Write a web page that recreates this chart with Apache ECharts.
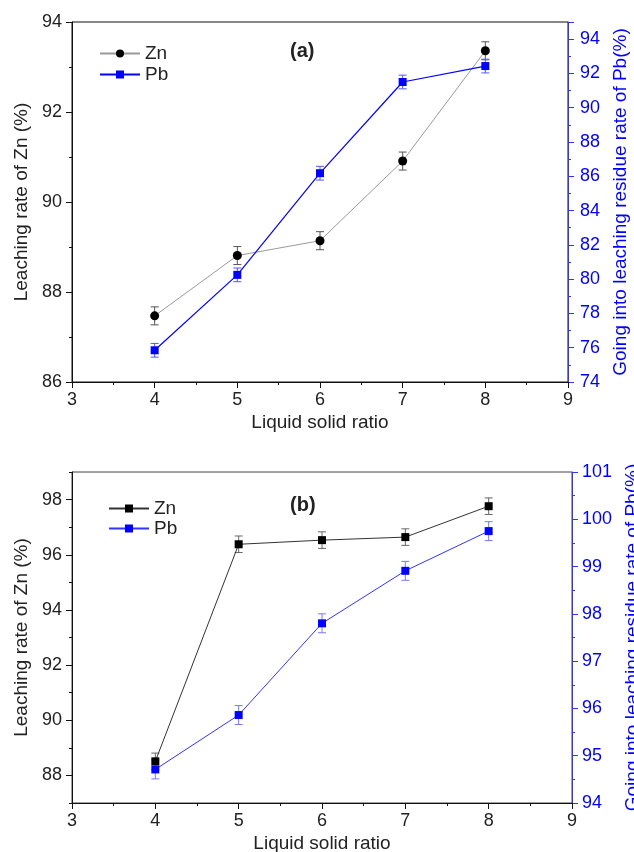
<!DOCTYPE html>
<html>
<head>
<meta charset="utf-8">
<script src="https://cdn.jsdelivr.net/npm/echarts@6/dist/echarts.min.js"></script>
<style>
html,body{margin:0;padding:0;background:#fff;}
#chart{width:634px;height:852px;}
</style>
</head>
<body>
<div id="chart"></div>
<script>
// ---- data ----
const ratios = [4, 5, 6, 7, 8];
// panel (a)
const znA = [87.47, 88.81, 89.14, 90.91, 93.36];
const znAErr = [0.2, 0.2, 0.2, 0.2, 0.2];
const pbA = [75.85, 80.25, 86.18, 91.50, 92.43];
const pbAErr = [0.4, 0.4, 0.4, 0.4, 0.4];
// panel (b)
const znB = [88.51, 96.38, 96.53, 96.64, 97.76];
const znBErr = [0.3, 0.3, 0.3, 0.3, 0.3];
const pbB = [94.71, 95.86, 97.80, 98.91, 99.75];
const pbBErr = [0.2, 0.2, 0.2, 0.2, 0.2];
// tick labels
const xTicks = [3, 4, 5, 6, 7, 8, 9];
const leftTicksA = [86, 88, 90, 92, 94];
const rightTicksA = [74, 76, 78, 80, 82, 84, 86, 88, 90, 92, 94];
const leftTicksB = [88, 90, 92, 94, 96, 98];
const rightTicksB = [94, 95, 96, 97, 98, 99, 100, 101];

const FONT = 'Liberation Sans, Arial, sans-serif';
const BLUE = '#0000ff';
const TXT = '#222';

function pts(v) { return ratios.map((x, i) => [x, v[i]]); }
function errs(v, e) { return ratios.map((x, i) => [x, v[i] - e[i], v[i] + e[i]]); }

function errSeries(data, xi, yi, color) {
  return {
    type: 'custom', xAxisIndex: xi, yAxisIndex: yi, z: 1, silent: true,
    encode: { x: 0, y: [1, 2] },
    data: data,
    renderItem: function (params, api) {
      const x = api.value(0), lo = api.value(1), hi = api.value(2);
      const a = api.coord([x, hi]), b = api.coord([x, lo]);
      const w = 4, st = { stroke: color, lineWidth: 1 };
      return { type: 'group', children: [
        { type: 'line', shape: { x1: a[0], y1: a[1], x2: b[0], y2: b[1] }, style: st },
        { type: 'line', shape: { x1: a[0] - w, y1: a[1], x2: a[0] + w, y2: a[1] }, style: st },
        { type: 'line', shape: { x1: b[0] - w, y1: b[1], x2: b[0] + w, y2: b[1] }, style: st }
      ]};
    }
  };
}

function xAxisDef(gi) {
  return {
    type: 'value', gridIndex: gi, min: 3, max: 9, interval: 1,
    name: 'Liquid solid ratio', nameLocation: 'middle', nameGap: 31,
    nameTextStyle: { fontFamily: FONT, fontSize: 19, color: TXT },
    axisLine: { lineStyle: { color: '#111', width: 1 } },
    axisTick: { show: true, inside: false, length: 6, lineStyle: { color: '#111' } },
    minorTick: { show: true, splitNumber: 2, length: 3, lineStyle: { color: '#111' } },
    axisLabel: { fontFamily: FONT, fontSize: 18, color: TXT, margin: 9,
      formatter: v => (xTicks.indexOf(v) >= 0 ? String(v) : '') },
    splitLine: { show: false }
  };
}

const leftName = 'Leaching rate of Zn (%)';
const rightName = 'Going into leaching residue rate of Pb(%)';

const option = {
  animation: false,
  backgroundColor: '#fff',
  textStyle: { fontFamily: FONT },
  title: [
    { text: '(a)', left: 290, top: 41, padding: 0, textStyle: { fontFamily: FONT, fontSize: 20, fontWeight: 'bold', color: TXT } },
    { text: '(b)', left: 290, top: 495, padding: 0, textStyle: { fontFamily: FONT, fontSize: 20, fontWeight: 'bold', color: TXT } }
  ],
  legend: [
    { orient: 'vertical', left: 99, top: 44, padding: 0, itemWidth: 40, itemHeight: 10, itemGap: 2,
      data: ['Zn(a)', 'Pb(a)'], formatter: n => n.slice(0, 2),
      textStyle: { fontFamily: FONT, fontSize: 19, lineHeight: 19, color: TXT } },
    { orient: 'vertical', left: 108, top: 499, padding: 0, itemWidth: 40, itemHeight: 10, itemGap: 1,
      data: ['Zn(b)', 'Pb(b)'], formatter: n => n.slice(0, 2),
      textStyle: { fontFamily: FONT, fontSize: 19, lineHeight: 19, color: TXT } }
  ],
  grid: [
    { left: 72, right: 66, top: 22, height: 360, show: true, borderColor: '#111', borderWidth: 1,
      backgroundColor: 'transparent', outerBoundsMode: 'none', containLabel: false },
    { left: 72, right: 62, top: 472, height: 331, show: true, borderColor: '#444', borderWidth: 1,
      backgroundColor: 'transparent', outerBoundsMode: 'none', containLabel: false }
  ],
  xAxis: [xAxisDef(0), xAxisDef(1)],
  yAxis: [
    { // 0: (a) left
      type: 'value', gridIndex: 0, position: 'left', min: 86, max: 94, interval: 2,
      name: leftName, nameLocation: 'middle', nameRotate: 90, nameGap: 37,
      nameTextStyle: { fontFamily: FONT, fontSize: 19, color: TXT },
      axisLine: { show: true, lineStyle: { color: '#111' } },
      axisTick: { show: true, inside: false, length: 6, lineStyle: { color: '#111' } },
      minorTick: { show: true, splitNumber: 2, length: 3, lineStyle: { color: '#111' } },
      axisLabel: { fontFamily: FONT, fontSize: 18, color: TXT, margin: 10,
        formatter: v => (leftTicksA.indexOf(v) >= 0 ? String(v) : '') },
      splitLine: { show: false }
    },
    { // 1: (a) right
      type: 'value', gridIndex: 0, position: 'right', min: 74, max: 95, interval: 2,
      name: rightName, nameLocation: 'middle', nameRotate: 90, nameGap: 40,
      nameTextStyle: { fontFamily: FONT, fontSize: 19, color: BLUE },
      axisLine: { show: true, lineStyle: { color: '#3333ff' } },
      axisTick: { show: true, inside: false, length: 6, lineStyle: { color: '#3333ff' } },
      minorTick: { show: true, splitNumber: 2, length: 3, lineStyle: { color: '#3333ff' } },
      axisLabel: { fontFamily: FONT, fontSize: 18, color: BLUE, margin: 12,
        formatter: v => (rightTicksA.indexOf(v) >= 0 ? String(v) : '') },
      splitLine: { show: false }
    },
    { // 2: (b) left
      type: 'value', gridIndex: 1, position: 'left', min: 87, max: 99,
      name: leftName, nameLocation: 'middle', nameRotate: 90, nameGap: 38,
      nameTextStyle: { fontFamily: FONT, fontSize: 19, color: TXT },
      axisLine: { show: true, lineStyle: { color: '#111' } },
      axisTick: { show: true, inside: false, length: 6, customValues: leftTicksB, lineStyle: { color: '#111' } },
      axisLabel: { fontFamily: FONT, fontSize: 18, color: TXT, margin: 10, customValues: leftTicksB },
      splitLine: { show: false }
    },
    { // 3: (b) right
      type: 'value', gridIndex: 1, position: 'right', min: 94, max: 101, interval: 1,
      name: rightName, nameLocation: 'middle', nameRotate: 90, nameGap: 45,
      nameTextStyle: { fontFamily: FONT, fontSize: 19, color: BLUE },
      axisLine: { show: true, lineStyle: { color: '#3333ff' } },
      axisTick: { show: true, inside: false, length: 6, lineStyle: { color: '#3333ff' } },
      minorTick: { show: true, splitNumber: 2, length: 3, lineStyle: { color: '#3333ff' } },
      axisLabel: { fontFamily: FONT, fontSize: 18, color: BLUE, margin: 10,
        formatter: v => (rightTicksB.indexOf(v) >= 0 ? String(v) : '') },
      splitLine: { show: false }
    },
    { // 4: (b) left minor ticks at odd values
      type: 'value', gridIndex: 1, position: 'left', min: 87, max: 99, interval: 2,
      axisLine: { show: false },
      axisTick: { show: true, inside: false, length: 3, lineStyle: { color: '#111' } },
      axisLabel: { show: false },
      splitLine: { show: false }
    }
  ],
  series: [
    errSeries(errs(znA, znAErr), 0, 0, '#555'),
    errSeries(errs(pbA, pbAErr), 0, 1, '#5555ff'),
    { name: 'Zn(a)', type: 'line', xAxisIndex: 0, yAxisIndex: 0, data: pts(znA),
      symbol: 'circle', symbolSize: 9, z: 3,
      lineStyle: { color: '#9a9a9a', width: 1 }, itemStyle: { color: '#000' } },
    { name: 'Pb(a)', type: 'line', xAxisIndex: 0, yAxisIndex: 1, data: pts(pbA),
      symbol: 'rect', symbolSize: 8, z: 3,
      lineStyle: { color: BLUE, width: 1.2 }, itemStyle: { color: BLUE } },
    errSeries(errs(znB, znBErr), 1, 2, '#666'),
    errSeries(errs(pbB, pbBErr), 1, 3, '#7777ff'),
    { name: 'Zn(b)', type: 'line', xAxisIndex: 1, yAxisIndex: 2, data: pts(znB),
      symbol: 'rect', symbolSize: 8, z: 3,
      lineStyle: { color: '#333', width: 1 }, itemStyle: { color: '#000' } },
    { name: 'Pb(b)', type: 'line', xAxisIndex: 1, yAxisIndex: 3, data: pts(pbB),
      symbol: 'rect', symbolSize: 8, z: 3,
      lineStyle: { color: '#3333ff', width: 1 }, itemStyle: { color: BLUE } }
  ]
};

const chart = echarts.init(document.getElementById('chart'), null, { renderer: 'canvas' });
chart.setOption(option);
</script>
</body>
</html>
